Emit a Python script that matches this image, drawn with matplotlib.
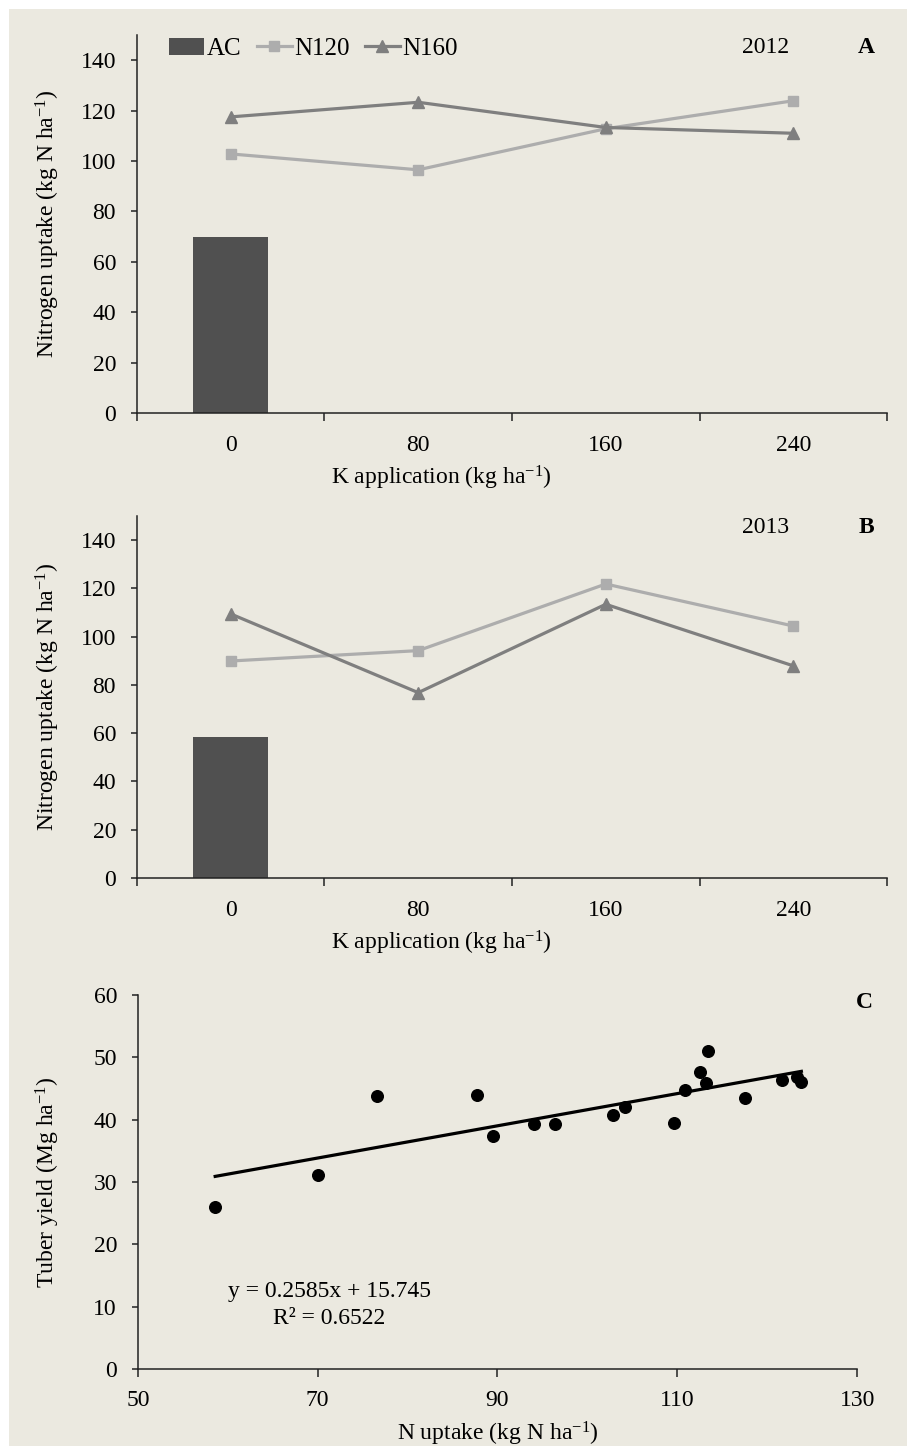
import matplotlib
matplotlib.use("Agg")
import matplotlib.pyplot as plt
import numpy as np
from matplotlib.patches import Rectangle

plt.rcParams["font.family"] = ["Liberation Serif", "DejaVu Serif"]
plt.rcParams["mathtext.default"] = "regular"
plt.rcParams["axes.unicode_minus"] = False
plt.rcParams["font.size"] = 17

# data
k_rates = ["0", "80", "160", "240"]
ac_2012 = 70.0
n120_2012 = [102.8, 96.5, 112.8, 123.9]
n160_2012 = [117.5, 123.3, 113.3, 111.0]
ac_2013 = 58.5
n120_2013 = [89.9, 94.2, 121.8, 104.4]
n160_2013 = [109.4, 76.8, 113.4, 87.9]

n_uptake = [58.6, 70.0, 76.6, 87.7, 89.5, 94.1, 96.4, 102.8, 104.2,
            109.6, 110.9, 112.5, 113.2, 113.4, 117.5, 121.7, 123.3, 123.8]
tuber_yield = [26.0, 31.1, 43.85, 44.0, 37.4, 39.25, 39.3, 40.75, 42.0,
               39.5, 44.8, 47.6, 45.9, 51.0, 43.5, 46.4, 46.8, 46.1]
slope, intercept = 0.2585, 15.745

bg = "#EBE9E0"
c_bar = "#505050"
c_n120 = "#ADADAD"
c_n160 = "#7F7F7F"

fig = plt.figure(figsize=(9.07, 14.46), dpi=100)
fig.add_artist(Rectangle((9 / 907, 0), 1, 1 - 9 / 1446, transform=fig.transFigure,
                         facecolor=bg, edgecolor="none", zorder=-10))


def style_axes(ax):
    ax.set_facecolor("none")
    for s in ["top", "right"]:
        ax.spines[s].set_visible(False)
    for s in ["left", "bottom"]:
        ax.spines[s].set_linewidth(1.1)
        ax.spines[s].set_color("#222222")
    ax.tick_params(axis="y", direction="out", length=4, width=1.1, pad=11, color="#222222")
    ax.tick_params(axis="x", direction="out", length=6, width=1.1, pad=9, color="#222222")


def uptake_panel(ax, ac, n120, n160, year, letter, label_y, legend=False):
    x = np.arange(len(k_rates))
    b = ax.bar(x[0], ac, width=0.4, color=c_bar, label="AC")
    l1, = ax.plot(x, n120, color=c_n120, lw=2.3, marker="s", ms=7, label="N120")
    l2, = ax.plot(x, n160, color=c_n160, lw=2.3, marker="^", ms=8.5, label="N160")
    ax.set_xlim(-0.5, len(k_rates) - 0.5)
    ax.set_ylim(0, 150)
    ax.set_yticks(np.arange(0, 141, 20))
    ax.set_xticks(np.arange(len(k_rates) + 1) - 0.5)
    ax.set_xticklabels([])
    ax.set_xticks(x, minor=True)
    ax.set_xticklabels(k_rates, minor=True)
    ax.tick_params(axis="x", which="minor", length=0, pad=16)
    style_axes(ax)
    ax.set_xlabel("K application (kg ha$^{-1}$)")
    ax.xaxis.set_label_coords(0.406, label_y)
    ax.set_ylabel("Nitrogen uptake (kg N ha$^{-1}$)")
    ax.yaxis.set_label_coords(-0.100, 0.5)
    ax.text(0.838, 0.968, year, transform=ax.transAxes, ha="center", va="center")
    ax.text(0.972, 0.968, letter, transform=ax.transAxes, ha="center", va="center",
            fontweight="bold")
    if legend:
        ax.legend(handles=[b, l1, l2], loc="center left", bbox_to_anchor=(0.03, 0.963),
                  ncol=3, frameon=False, handlelength=1.4, handletextpad=0.1,
                  columnspacing=0.6, borderaxespad=0, fontsize=18)


axA = fig.add_axes([0.151, 0.7144, 0.827, 0.2614])
uptake_panel(axA, ac_2012, n120_2012, n160_2012, "2012", "A", -0.135, legend=True)

axB = fig.add_axes([0.151, 0.3928, 0.827, 0.2504])
uptake_panel(axB, ac_2013, n120_2013, n160_2013, "2013", "B", -0.14)

axC = fig.add_axes([0.152, 0.0533, 0.793, 0.2586])
axC.scatter(n_uptake, tuber_yield, s=70, color="black", zorder=3)
xf = np.array([min(n_uptake), max(n_uptake)])
axC.plot(xf, slope * xf + intercept, color="black", lw=2.3)
axC.set_xlim(50, 130)
axC.set_ylim(0, 60)
axC.set_xticks(np.arange(50, 131, 20))
axC.set_yticks(np.arange(0, 61, 10))
style_axes(axC)
axC.set_xlabel("N uptake (kg N ha$^{-1}$)")
axC.xaxis.set_label_coords(0.5, -0.135)
axC.set_ylabel("Tuber yield (Mg ha$^{-1}$)")
axC.yaxis.set_label_coords(-0.105, 0.5)
axC.text(0.266, 0.206, "y = 0.2585x + 15.745", transform=axC.transAxes,
         ha="center", va="center")
axC.text(0.266, 0.136, "R² = 0.6522", transform=axC.transAxes,
         ha="center", va="center")
axC.text(1.01, 0.981, "C", transform=axC.transAxes, ha="center", va="center",
         fontweight="bold")

fig.savefig("out.png", dpi=100)
